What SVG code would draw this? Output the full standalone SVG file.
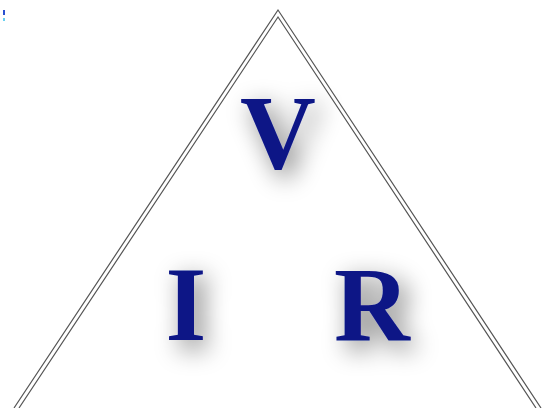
<svg xmlns="http://www.w3.org/2000/svg" width="551" height="408" viewBox="0 0 551 408">
<defs>
<filter id="sh" x="-80%" y="-80%" width="260%" height="260%">
<feGaussianBlur in="SourceAlpha" stdDeviation="13" result="b"/>
<feOffset in="b" dx="7" dy="8" result="o"/>
<feComponentTransfer in="o" result="s"><feFuncA type="linear" slope="0.55"/></feComponentTransfer>
<feMerge><feMergeNode in="s"/><feMergeNode in="SourceGraphic"/></feMerge>
</filter>
</defs>
<style>
.edge{fill:none;stroke:#555;stroke-width:1.2}
.lbl{font-family:"Liberation Serif","Times New Roman",serif;font-weight:bold;font-size:105px;fill:#0a1486;text-anchor:middle;filter:url(#sh)}
</style>
<rect width="551" height="408" fill="#ffffff"/>
<rect x="3" y="10" width="2" height="5" fill="#2a4fd0"/>
<rect x="3" y="18" width="2" height="3" fill="#6ad0f0"/>
<g id="connectors">
<polyline class="edge" points="14,408 278,10 541,408"/>
<polyline class="edge" points="19,408 278,17 536,408"/>
</g>
<g id="V"><text class="lbl" x="278" y="168">V</text></g>
<g id="I"><text class="lbl" x="186" y="340">I</text></g>
<g id="R"><text class="lbl" x="372" y="340">R</text></g>
</svg>
